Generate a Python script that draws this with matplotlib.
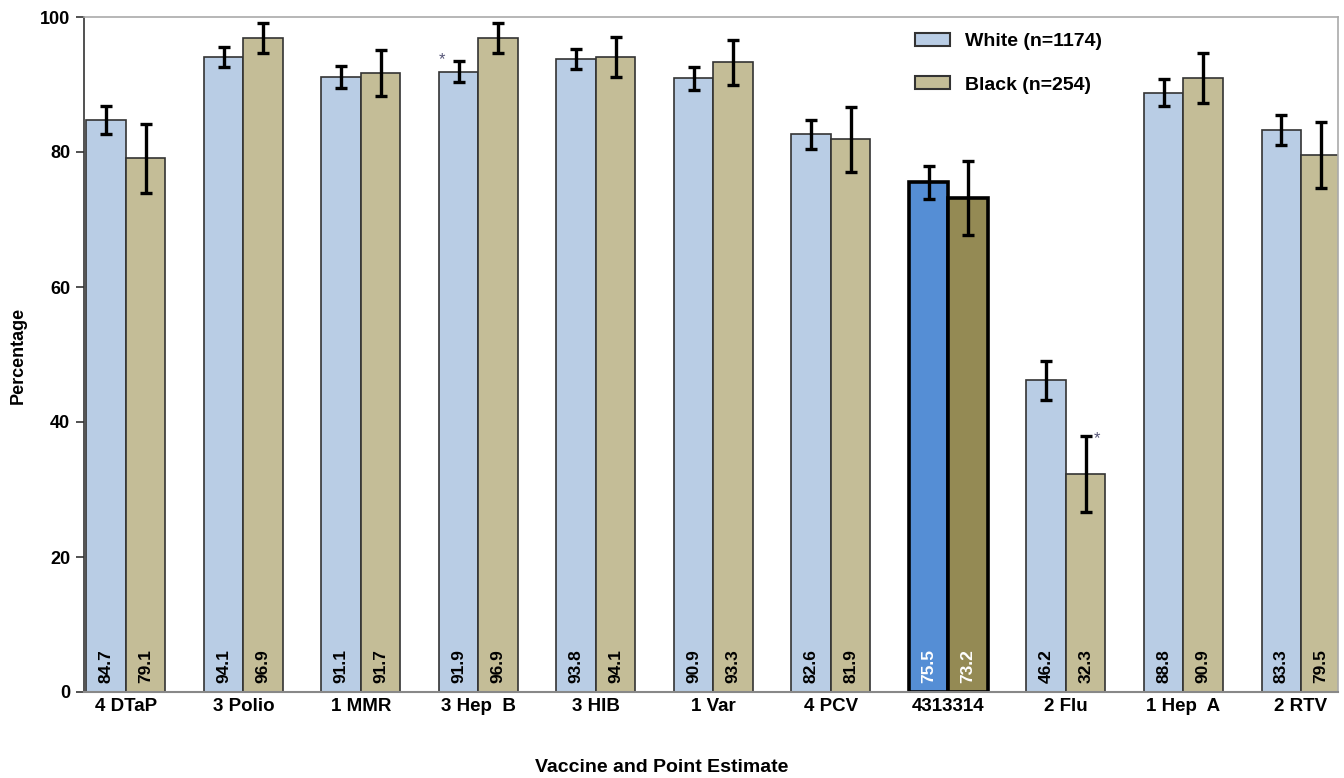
import matplotlib
matplotlib.use("Agg")
import matplotlib.pyplot as plt
import numpy as np
from matplotlib.patches import Patch

plt.rcParams['font.family'] = ['Liberation Sans', 'DejaVu Sans']

vaccines = ["4 DTaP", "3 Polio", "1 MMR", "3 Hep  B", "3 HIB", "1 Var",
            "4 PCV", "4313314", "2 Flu", "1 Hep  A", "2 RTV"]
white = [84.7, 94.1, 91.1, 91.9, 93.8, 90.9, 82.6, 75.5, 46.2, 88.8, 83.3]
black = [79.1, 96.9, 91.7, 96.9, 94.1, 93.3, 81.9, 73.2, 32.3, 90.9, 79.5]
white_ci = [2.1, 1.5, 1.6, 1.6, 1.5, 1.7, 2.2, 2.5, 2.9, 2.0, 2.2]
black_ci = [5.1, 2.2, 3.4, 2.2, 3.0, 3.3, 4.8, 5.5, 5.7, 3.7, 4.9]
highlight = "4313314"
white_star = ["3 Hep  B"]
black_star = ["2 Flu"]
legend_labels = ["White (n=1174)", "Black (n=254)"]

c_white, c_black = "#B9CDE5", "#C4BD97"
c_white_hl, c_black_hl = "#558ED5", "#948A54"

W, H = 1344, 778
fig = plt.figure(figsize=(W / 100, H / 100), dpi=100)
ax = fig.add_axes([84 / W, 86 / H, (1338 - 84) / W, (692 - 17) / H])

x = np.arange(len(vaccines))
w = 0.336

for i, v in enumerate(vaccines):
    hl = v == highlight
    fc_w = c_white_hl if hl else c_white
    fc_b = c_black_hl if hl else c_black
    lw = 2.6 if hl else 1.2
    ec = "black" if hl else "#333333"
    ax.bar(x[i] - w / 2, white[i], w, color=fc_w, edgecolor=ec, linewidth=lw, zorder=2)
    ax.bar(x[i] + w / 2, black[i], w, color=fc_b, edgecolor=ec, linewidth=lw, zorder=2)
    tc = "white" if hl else "black"
    for xx, val in ((x[i] - w / 2, white[i]), (x[i] + w / 2, black[i])):
        ax.text(xx, 1.4, f"{val:.1f}", rotation=90, ha="center", va="bottom",
                fontsize=12.5, fontweight="bold", color=tc, zorder=4)

ax.errorbar(x - w / 2, white, yerr=white_ci, fmt="none", ecolor="black",
            elinewidth=2.4, capsize=4.5, capthick=2.4, zorder=3)
ax.errorbar(x + w / 2, black, yerr=black_ci, fmt="none", ecolor="black",
            elinewidth=2.4, capsize=4.5, capthick=2.4, zorder=3)

for v in white_star:
    i = vaccines.index(v)
    ax.text(x[i] - w / 2 - 0.14, white[i] + white_ci[i] - 1.0, "*", ha="center",
            va="bottom", fontsize=12, color="#555577")
for v in black_star:
    i = vaccines.index(v)
    ax.text(x[i] + w / 2 + 0.1, black[i] + black_ci[i] - 1.6, "*", ha="center",
            va="bottom", fontsize=12, color="#555577")

ax.set_xlim(-0.357, 10.315)
ax.set_ylim(0, 100)
ax.set_yticks(np.arange(0, 101, 20))
ax.set_xticks(x)
ax.set_xticklabels(vaccines, fontsize=13.5, fontweight="bold")
for lab in ax.get_yticklabels():
    lab.set_fontweight("bold")
ax.tick_params(axis="x", length=0, pad=4)
ax.tick_params(axis="y", length=6, width=1.2, color="#333333", labelsize=13, pad=4)

for s in ("top", "right"):
    ax.spines[s].set_color("#AAAAAA")
    ax.spines[s].set_linewidth(1.2)
ax.spines["bottom"].set_color("#888888")
ax.spines["bottom"].set_linewidth(1.5)
ax.spines["left"].set_color("#333333")
ax.spines["left"].set_linewidth(1.2)

fig.text(18 / W, 1 - 355 / H, "Percentage", rotation=90, ha="center", va="center",
         fontsize=13, fontweight="bold")
fig.text(662 / W, 1 - 767 / H, "Vaccine and Point Estimate", ha="center", va="center",
         fontsize=14, fontweight="bold")

handles = [Patch(facecolor=c_white, edgecolor="#333333", linewidth=1.5),
           Patch(facecolor=c_black, edgecolor="#333333", linewidth=1.5)]
ax.legend(handles, legend_labels, loc="upper left",
          bbox_to_anchor=((915 - 84) / (1338 - 84), 1 - (33 - 17) / (692 - 17)),
          frameon=False, prop={"size": 14, "weight": "bold"},
          handlelength=1.8, handleheight=0.62, borderpad=0, borderaxespad=0,
          labelspacing=1.35, handletextpad=0.75)

fig.savefig("out.png", dpi=100)
